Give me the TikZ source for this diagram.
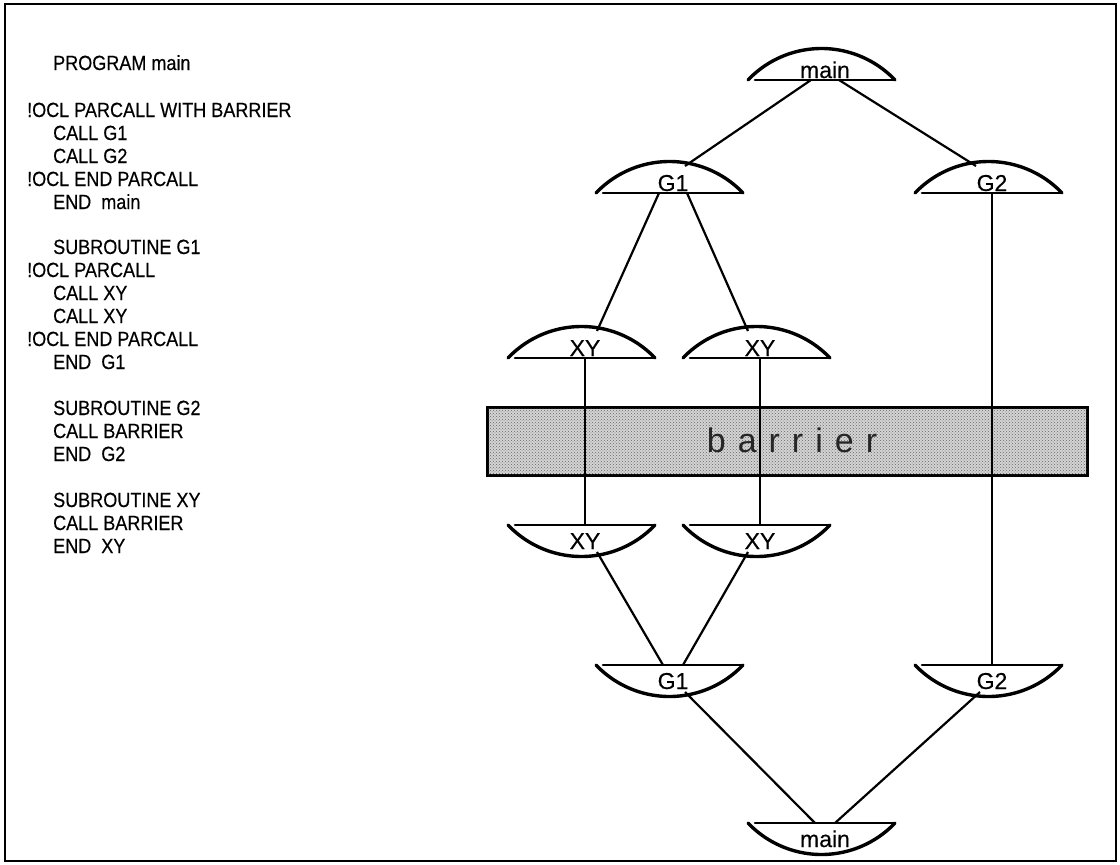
\documentclass[tikz,border=0pt]{standalone}
\usepackage{fontspec}
\setmainfont{Liberation Sans}
\newfontfamily\codefont{Liberation Sans}[FakeStretch=0.88,FakeBold=0.4]
\newfontfamily\lblfont{Liberation Sans}[FakeBold=0.3]
\usetikzlibrary{calc,patterns}
\tikzset{
  domearc/.style={line width=3.4pt, line cap=round},
  domebase/.style={line width=2.6pt, line cap=round},
  conn/.style={line width=2.2pt},
  lbl/.style={inner sep=0pt, font=\lblfont\fontsize{23}{25}\selectfont},
  code/.style={inner sep=0pt, anchor=base west, font=\codefont\fontsize{20.5}{22}\selectfont},
  barrierbox/.style={draw=black, line width=1.8pt, fill={rgb,255:red,212;green,212;blue,212}},
  barrierdots/.style={pattern=crosshatch dots, pattern color=black!60},
  frame/.style={draw=black, line width=2.8pt}
}
% upright dome: name, x, base y, text
\newcommand\domeup[4]{%
  \begin{scope}[shift={(#2,#3)}]
    \draw[domebase] (-70,0) -- (70,0);
    \draw[domearc] (70,0) arc[start angle=316.4, end angle=223.6, radius=101.5];
    \node[lbl, anchor=base] (#1) at (0,-2) {#4};
    \coordinate (#1-tl) at (-12,-27);
    \coordinate (#1-tr) at (12,-27);
    \coordinate (#1-t) at (0,-28);
    \coordinate (#1-b) at (0,0);
    \coordinate (#1-bl) at (-14,0);
    \coordinate (#1-br) at (14,0);
  \end{scope}}
% inverted dome (bowl): name, x, top y, text
\newcommand\domedown[4]{%
  \begin{scope}[shift={(#2,#3)}]
    \draw[domebase] (-70,0) -- (70,0);
    \draw[domearc] (70,0) arc[start angle=43.6, end angle=136.4, radius=101.5];
    \node[lbl, anchor=base] (#1) at (0,24) {#4};
    \coordinate (#1-bl) at (-12,27);
    \coordinate (#1-br) at (12,27);
    \coordinate (#1-b) at (0,28);
    \coordinate (#1-t) at (0,0);
    \coordinate (#1-tl) at (-10,0);
    \coordinate (#1-tr) at (10,0);
  \end{scope}}
\begin{document}
\begin{tikzpicture}[x=1pt,y=-1pt]
\useasboundingbox (0,0) rectangle (1120,865);
\draw[frame] (5,4) rectangle (1116,861);

% program text
\node[code] (c1)  at (53,70)  {PROGRAM main};
\node[code] (c2)  at (27,117) {!OCL PARCALL WITH BARRIER};
\node[code] (c3)  at (53,140) {CALL G1};
\node[code] (c4)  at (53,163) {CALL G2};
\node[code] (c5)  at (27,186) {!OCL END PARCALL};
\node[code] (c6)  at (53,209) {END\ \ main};
\node[code] (c7)  at (53,254) {SUBROUTINE G1};
\node[code] (c8)  at (27,277) {!OCL PARCALL};
\node[code] (c9)  at (53,300) {CALL XY};
\node[code] (c10) at (53,323) {CALL XY};
\node[code] (c11) at (27,346) {!OCL END PARCALL};
\node[code] (c12) at (53,369) {END\ \ G1};
\node[code] (c13) at (53,415) {SUBROUTINE G2};
\node[code] (c14) at (53,438) {CALL BARRIER};
\node[code] (c15) at (53,461) {END\ \ G2};
\node[code] (c16) at (53,507) {SUBROUTINE XY};
\node[code] (c17) at (53,530) {CALL BARRIER};
\node[code] (c18) at (53,553) {END\ \ XY};

% barrier
\node[barrierbox, minimum width=599pt, minimum height=67pt, inner sep=0pt] (bar) at (787.5,441.5) {};
\fill[barrierdots] (bar.south west) rectangle (bar.north east);
\draw[line width=1.8pt] (bar.south west) rectangle (bar.north east);
\node[inner sep=0pt, anchor=base, font=\fontsize{34}{36}\selectfont, text=black!85] (bartext) at (792,452)
  {b\hspace{12pt}a\hspace{12pt}r\hspace{12pt}r\hspace{12pt}i\hspace{12pt}e\hspace{12pt}r};

% domes
\domeup{mainT}{825}{80}{main}
\domeup{G1T}{673}{193}{G1}
\domeup{G2T}{992}{193}{G2}
\domeup{XY1T}{585}{358}{XY}
\domeup{XY2T}{760}{358}{XY}
\domedown{XY1B}{585}{525}{XY}
\domedown{XY2B}{760}{525}{XY}
\domedown{G1B}{673}{665}{G1}
\domedown{G2B}{992}{665}{G2}
\domedown{mainB}{825}{823}{main}

% connectors
\draw[conn] (mainT-bl) -- (G1T-tr);
\draw[conn] (mainT-br) -- ($(G2T-tl)+(-4,0)$);
\draw[conn] (G1T-bl) -- (XY1T-tr);
\draw[conn] (G1T-br) -- (XY2T-tl);
\draw[conn] (G2T-b) -- (G2B-t);
\draw[conn] (XY1T-b) -- (XY1B-t);
\draw[conn] (XY2T-b) -- (XY2B-t);
\draw[conn] (XY1B-br) -- (G1B-tl);
\draw[conn] (XY2B-bl) -- (G1B-tr);
\draw[conn] (G1B-br) -- (mainB-tl);
\draw[conn] (G2B-bl) -- (mainB-tr);
\end{tikzpicture}
\end{document}
